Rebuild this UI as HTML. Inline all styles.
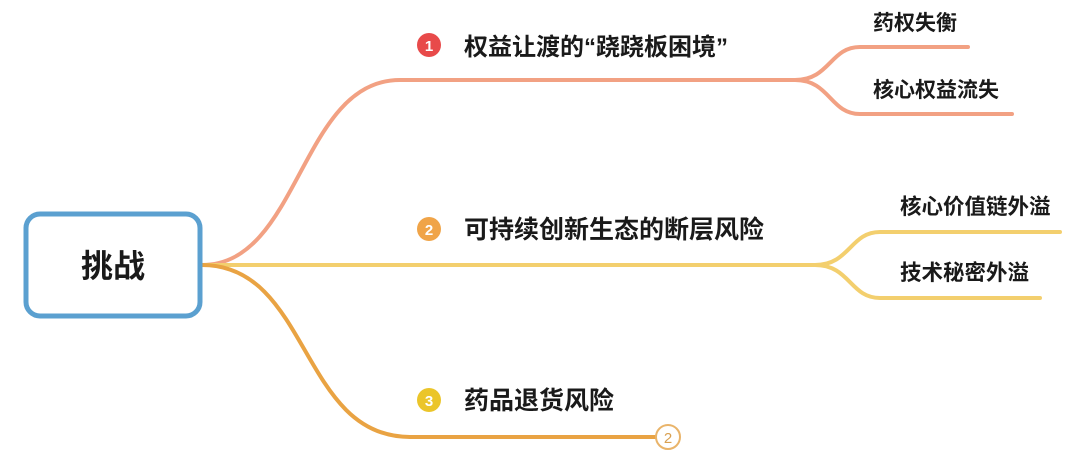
<!DOCTYPE html>
<html><head><meta charset="utf-8"><style>
html,body{margin:0;padding:0;background:#fff;}
svg{display:block;}
text{font-family:"Liberation Sans","Noto Sans CJK SC",sans-serif;font-weight:bold;fill:#1a1a1a;}
</style></head><body>
<svg width="1080" height="468" viewBox="0 0 1080 468" xmlns="http://www.w3.org/2000/svg">
<g fill="none" stroke-width="4" stroke-linecap="round">
<path d="M202,265 C300,265 300,80 400,80 L800,80" stroke="#f2a183"/>
<path d="M795,80 C830,80 830,47 860,47 L968,47" stroke="#f2a183"/>
<path d="M795,80 C830,80 830,114 860,114 L1012,114" stroke="#f2a183"/>
<path d="M202,265 L820,265" stroke="#f3cf6e"/>
<path d="M815,265 C850,265 850,232 880,232 L1060,232" stroke="#f3cf6e"/>
<path d="M815,265 C850,265 850,298 880,298 L1040,298" stroke="#f3cf6e"/>
<path d="M202,265 C310,265 300,437 410,437 L656,437" stroke="#e9a343"/>
</g>
<circle cx="668" cy="437" r="12" fill="#fff" stroke="#e9b46a" stroke-width="2"/>
<text x="668" y="443" font-size="15" text-anchor="middle" style="font-weight:normal;fill:#d9a050">2</text>
<rect x="26" y="214" width="174" height="102" rx="14" fill="#fff" stroke="#5ba0d0" stroke-width="5"/>
<text x="113" y="277" font-size="32" text-anchor="middle">挑战</text>
<circle cx="429" cy="45" r="12" fill="#e84a4a"/>
<text x="429" y="51" font-size="15" text-anchor="middle" style="fill:#fff">1</text>
<text x="464" y="55" font-size="24">权益让渡的“跷跷板困境”</text>
<circle cx="429" cy="229" r="12" fill="#f0a448"/>
<text x="429" y="235" font-size="15" text-anchor="middle" style="fill:#fff">2</text>
<text x="464" y="238" font-size="25">可持续创新生态的断层风险</text>
<circle cx="429" cy="400" r="12" fill="#ebc52a"/>
<text x="429" y="406" font-size="15" text-anchor="middle" style="fill:#fff">3</text>
<text x="464" y="409" font-size="25">药品退货风险</text>
<text x="873" y="30" font-size="21">药权失衡</text>
<text x="873" y="97" font-size="21">核心权益流失</text>
<text x="900" y="214" font-size="21.5">核心价值链外溢</text>
<text x="900" y="280" font-size="21.5">技术秘密外溢</text>
</svg>
</body></html>
